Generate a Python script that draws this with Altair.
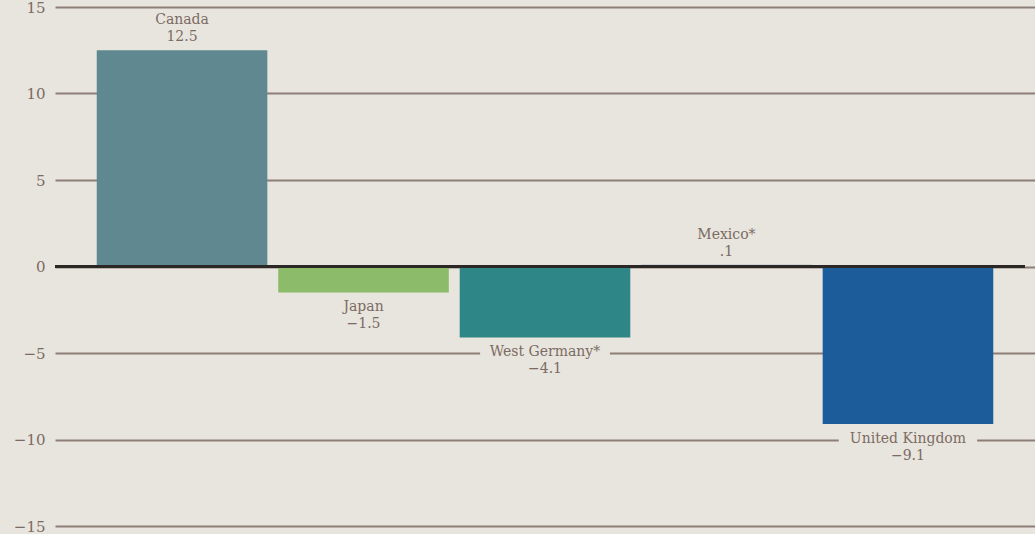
import altair as alt
import pandas as pd

# Percentage change by country
countries = ["Canada", "Japan", "West Germany*", "Mexico*", "United Kingdom"]
changes = [12.5, -1.5, -4.1, 0.1, -9.1]
bar_colors = ["#5f8890", "#8cbc6a", "#2f8686", "#8797ae", "#1d5c9b"]
y_ticks = [-15, -10, -5, 0, 5, 10, 15]

BG = "#e8e5de"
INK = "#7b6b63"
GRID = "#8d7f78"
FONT = "DejaVu Serif"


def value_text(v):
    s = f"{abs(v):.1f}"
    if abs(v) < 1:
        s = s.lstrip("0")
    return ("\u2212" + s) if v < 0 else s


df = pd.DataFrame({
    "country": countries,
    "change": changes,
    "label": [value_text(v) for v in changes],
})

x_enc = alt.X(
    "country:N",
    sort=countries,
    axis=None,
    scale=alt.Scale(paddingInner=0.06, paddingOuter=0.23),
)
y_scale = alt.Scale(domain=[-15, 15], nice=False)

base = alt.Chart(df)

bars = base.mark_bar().encode(
    x=x_enc,
    y=alt.Y(
        "change:Q",
        scale=y_scale,
        title=None,
        axis=alt.Axis(
            values=y_ticks,
            grid=True,
            gridColor=GRID,
            gridWidth=2,
            gridOpacity=1,
            domain=False,
            ticks=False,
            labelPadding=10,
            labelFont=FONT,
            labelFontSize=15,
            labelColor=INK,
            labelExpr="datum.value < 0 ? '\u2212' + abs(datum.value) : datum.label",
        ),
    ),
    y2=alt.datum(0),
    color=alt.Color("country:N", scale=alt.Scale(domain=countries, range=bar_colors), legend=None),
)

zero_line = alt.Chart(pd.DataFrame({"v": [0]})).mark_rule(
    color="#2b2724", strokeWidth=3
).encode(y=alt.Y("v:Q", scale=y_scale), x=alt.value(0), x2=alt.value(970))

pos = base.transform_filter("datum.change >= 0")
neg = base.transform_filter("datum.change < 0")
box_w = "length(datum.country) * 8.6 + 18"

# Background patches so name labels break the gridlines beneath them
neg_box = neg.transform_calculate(w=box_w).mark_bar(
    color=BG, yOffset=8, y2Offset=24
).encode(x=x_enc, y=alt.Y("change:Q", scale=y_scale), y2="change:Q",
         size=alt.Size("w:Q", scale=None, legend=None))

text_style = dict(font=FONT, fontSize=14, color=INK, baseline="middle", align="center")

pos_name = pos.mark_text(dy=-30, **text_style).encode(
    x=x_enc, y=alt.Y("change:Q", scale=y_scale), text="country:N")
pos_val = pos.mark_text(dy=-13, **text_style).encode(
    x=x_enc, y=alt.Y("change:Q", scale=y_scale), text="label:N")
neg_name = neg.mark_text(dy=15, **text_style).encode(
    x=x_enc, y=alt.Y("change:Q", scale=y_scale), text="country:N")
neg_val = neg.mark_text(dy=32, **text_style).encode(
    x=x_enc, y=alt.Y("change:Q", scale=y_scale), text="label:N")

chart = alt.layer(
    bars, zero_line, neg_box, pos_name, pos_val, neg_name, neg_val
).resolve_scale(color="independent").properties(
    width=980,
    height=519,
    background=BG,
    padding={"left": 55, "top": 7, "right": 0, "bottom": 8},
    autosize=alt.AutoSizeParams(type="none"),
).configure_view(stroke=None)

chart.save("out.html", embed_options={"renderer": "svg", "actions": False})
